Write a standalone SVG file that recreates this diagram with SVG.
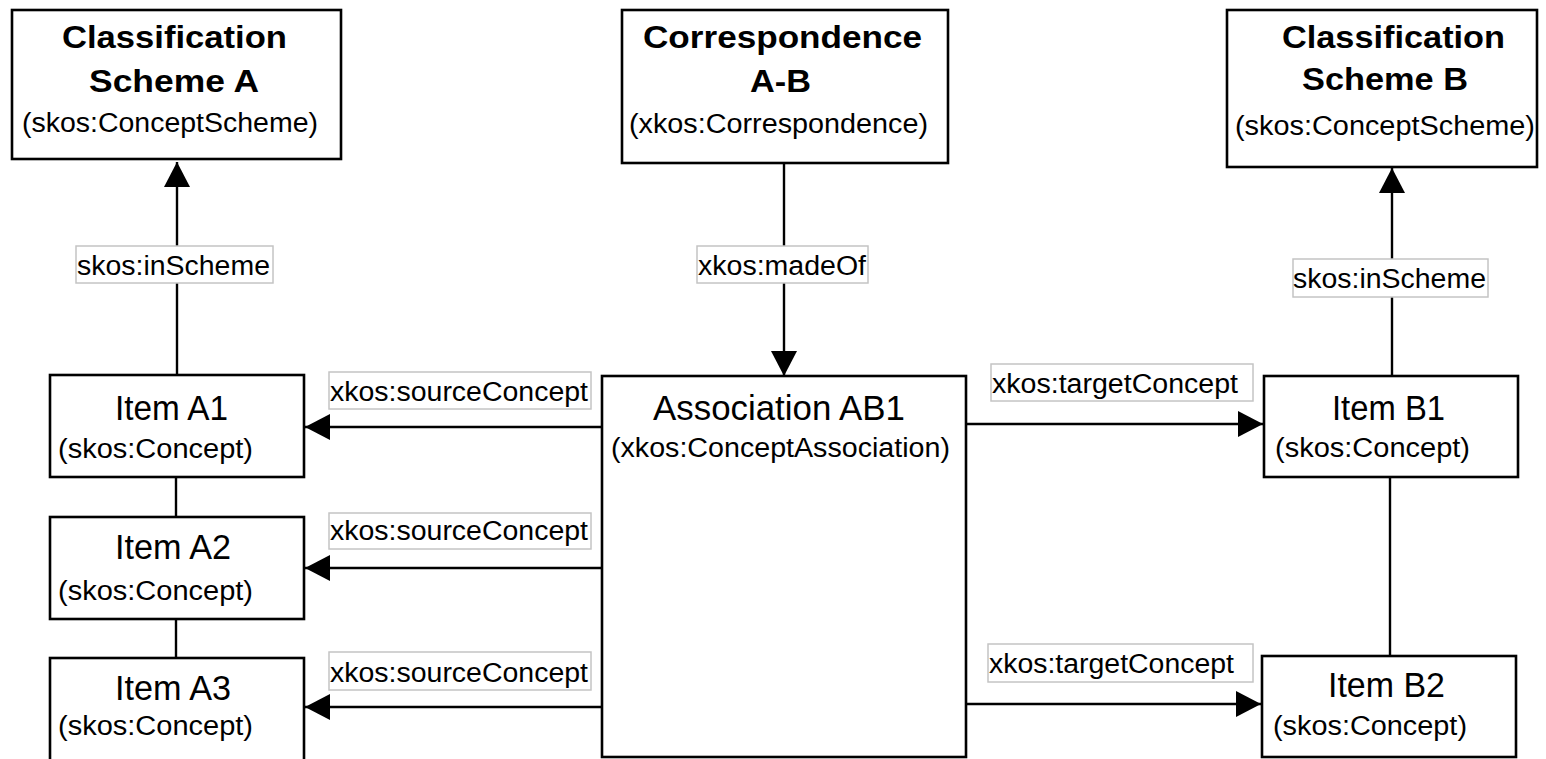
<svg xmlns="http://www.w3.org/2000/svg" width="1546" height="759" viewBox="0 0 1546 759">
  <defs>
    <marker id="arrow" markerUnits="userSpaceOnUse" markerWidth="26" markerHeight="28" viewBox="0 0 26 28" refX="25" refY="14" orient="auto">
      <path d="M0,1 L25,14 L0,27 z" fill="#000"/>
    </marker>
    <style>
      .box { fill: #fff; stroke: #000; stroke-width: 2.6; }
      .edge { fill: none; stroke: #000; stroke-width: 2.4; }
      .arrow { marker-end: url(#arrow); }
      .lbl rect { fill: #fff; stroke: #c4c4c4; stroke-width: 1.5; }
      text { font-family: "Liberation Sans", Arial, sans-serif; fill: #000; }
      .hd { font-size: 31px; font-weight: bold; }
      .tt { font-size: 35px; }
      .sub { font-size: 27px; }
      .lt { font-size: 27px; }
    </style>
  </defs>

  <rect width="1546" height="759" fill="#fff"/>

  <!-- connectors -->
  <g id="connectors">
    <line class="edge arrow" x1="177" y1="375" x2="177" y2="162"/>
    <line class="edge arrow" x1="784" y1="163" x2="784" y2="376"/>
    <line class="edge arrow" x1="1392" y1="376" x2="1392" y2="168"/>
    <line class="edge" x1="176" y1="477" x2="176" y2="517"/>
    <line class="edge" x1="176" y1="619" x2="176" y2="658"/>
    <line class="edge" x1="1390" y1="477" x2="1390" y2="656"/>
    <line class="edge arrow" x1="602" y1="427" x2="305" y2="427"/>
    <line class="edge arrow" x1="602" y1="568" x2="305" y2="568"/>
    <line class="edge arrow" x1="602" y1="707" x2="305" y2="707"/>
    <line class="edge arrow" x1="966" y1="424" x2="1263" y2="424"/>
    <line class="edge arrow" x1="963" y1="704" x2="1261" y2="704"/>

    <g class="lbl">
      <rect x="76" y="246" width="197" height="37"/>
      <text class="lt" x="77" y="275" textLength="193" lengthAdjust="spacingAndGlyphs">skos:inScheme</text>
    </g>
    <g class="lbl">
      <rect x="697" y="246" width="171" height="37"/>
      <text class="lt" x="698" y="275" textLength="168" lengthAdjust="spacingAndGlyphs">xkos:madeOf</text>
    </g>
    <g class="lbl">
      <rect x="1293" y="259" width="195" height="38"/>
      <text class="lt" x="1293" y="288" textLength="193" lengthAdjust="spacingAndGlyphs">skos:inScheme</text>
    </g>
    <g class="lbl">
      <rect x="329" y="372" width="262" height="37"/>
      <text class="lt" x="330" y="401" textLength="258" lengthAdjust="spacingAndGlyphs">xkos:sourceConcept</text>
    </g>
    <g class="lbl">
      <rect x="329" y="513" width="262" height="36"/>
      <text class="lt" x="330" y="540" textLength="258" lengthAdjust="spacingAndGlyphs">xkos:sourceConcept</text>
    </g>
    <g class="lbl">
      <rect x="329" y="652" width="262" height="38"/>
      <text class="lt" x="330" y="682" textLength="258" lengthAdjust="spacingAndGlyphs">xkos:sourceConcept</text>
    </g>
    <g class="lbl">
      <rect x="991" y="364" width="262" height="37"/>
      <text class="lt" x="992" y="393" textLength="246" lengthAdjust="spacingAndGlyphs">xkos:targetConcept</text>
    </g>
    <g class="lbl">
      <rect x="988" y="644" width="265" height="38"/>
      <text class="lt" x="989" y="673" textLength="245" lengthAdjust="spacingAndGlyphs">xkos:targetConcept</text>
    </g>
  </g>

  <!-- nodes -->
  <g id="scheme-a">
    <rect class="box" x="12" y="10" width="329" height="149"/>
    <text class="hd" x="62" y="48" textLength="225" lengthAdjust="spacingAndGlyphs">Classification</text>
    <text class="hd" x="89" y="92" textLength="170" lengthAdjust="spacingAndGlyphs">Scheme A</text>
    <text class="sub" x="22" y="132" textLength="296" lengthAdjust="spacingAndGlyphs">(skos:ConceptScheme)</text>
  </g>

  <g id="correspondence-ab">
    <rect class="box" x="622" y="10" width="326" height="153"/>
    <text class="hd" x="643" y="48" textLength="279" lengthAdjust="spacingAndGlyphs">Correspondence</text>
    <text class="hd" x="750" y="92" textLength="61" lengthAdjust="spacingAndGlyphs">A-B</text>
    <text class="sub" x="629" y="133" textLength="299" lengthAdjust="spacingAndGlyphs">(xkos:Correspondence)</text>
  </g>

  <g id="scheme-b">
    <rect class="box" x="1227" y="10" width="310" height="157"/>
    <text class="hd" x="1282" y="48" textLength="223" lengthAdjust="spacingAndGlyphs">Classification</text>
    <text class="hd" x="1302" y="90" textLength="166" lengthAdjust="spacingAndGlyphs">Scheme B</text>
    <text class="sub" x="1235" y="135" textLength="300" lengthAdjust="spacingAndGlyphs">(skos:ConceptScheme)</text>
  </g>

  <g id="item-a1">
    <rect class="box" x="50" y="375" width="254" height="102"/>
    <text class="tt" x="115" y="420" textLength="113" lengthAdjust="spacingAndGlyphs">Item A1</text>
    <text class="sub" x="58" y="458" textLength="195" lengthAdjust="spacingAndGlyphs">(skos:Concept)</text>
  </g>

  <g id="item-a2">
    <rect class="box" x="50" y="517" width="254" height="102"/>
    <text class="tt" x="115" y="559" textLength="116" lengthAdjust="spacingAndGlyphs">Item A2</text>
    <text class="sub" x="58" y="600" textLength="195" lengthAdjust="spacingAndGlyphs">(skos:Concept)</text>
  </g>

  <g id="item-a3">
    <rect class="box" x="50" y="658" width="254" height="110"/>
    <text class="tt" x="115" y="700" textLength="116" lengthAdjust="spacingAndGlyphs">Item A3</text>
    <text class="sub" x="58" y="735" textLength="195" lengthAdjust="spacingAndGlyphs">(skos:Concept)</text>
  </g>

  <g id="association-ab1">
    <rect class="box" x="602" y="376" width="364" height="381"/>
    <text class="tt" x="653" y="420" textLength="252" lengthAdjust="spacingAndGlyphs">Association AB1</text>
    <text class="sub" x="611" y="457" textLength="339" lengthAdjust="spacingAndGlyphs">(xkos:ConceptAssociation)</text>
  </g>

  <g id="item-b1">
    <rect class="box" x="1264" y="376" width="254" height="101"/>
    <text class="tt" x="1332" y="420" textLength="113" lengthAdjust="spacingAndGlyphs">Item B1</text>
    <text class="sub" x="1275" y="457" textLength="195" lengthAdjust="spacingAndGlyphs">(skos:Concept)</text>
  </g>

  <g id="item-b2">
    <rect class="box" x="1262" y="656" width="254" height="101"/>
    <text class="tt" x="1328" y="697" textLength="117" lengthAdjust="spacingAndGlyphs">Item B2</text>
    <text class="sub" x="1273" y="735" textLength="194" lengthAdjust="spacingAndGlyphs">(skos:Concept)</text>
  </g>
</svg>
